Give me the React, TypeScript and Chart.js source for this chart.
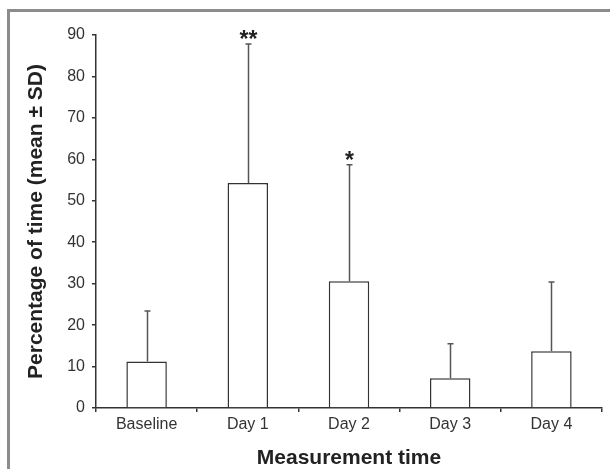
import React, { useEffect, useRef } from 'react';
import { Chart, registerables } from 'chart.js';

Chart.register(...registerables);

const categories = ['Baseline', 'Day 1', 'Day 2', 'Day 3', 'Day 4'];
const means = [11.2, 54.3, 30.6, 7.2, 13.7];
const sds = [12.2, 33.5, 28.1, 8.3, 16.7];
const significance = ['', '**', '*', '', ''];
const yMin = 0;
const yMax = 90;
const yStep = 10;

const FONT = "'Liberation Sans', Arial, sans-serif";

const errorBarPlugin = {
  id: 'errorBars',
  afterDatasetsDraw(chart: any) {
    const ctx = chart.ctx;
    const meta = chart.getDatasetMeta(0);
    const yScale = chart.scales.y;
    ctx.save();
    meta.data.forEach((bar: any, i: number) => {
      const x = Math.round(bar.x) + 0.5;
      const base = yScale.getPixelForValue(means[i]);
      const top = yScale.getPixelForValue(means[i] + sds[i]);
      ctx.strokeStyle = '#555';
      ctx.lineWidth = 1.5;
      ctx.beginPath();
      ctx.moveTo(x, base);
      ctx.lineTo(x, top);
      ctx.moveTo(x - 3, top);
      ctx.lineTo(x + 3, top);
      ctx.stroke();
      if (significance[i]) {
        ctx.fillStyle = '#222';
        ctx.font = `bold 23px ${FONT}`;
        ctx.textAlign = 'center';
        ctx.textBaseline = 'alphabetic';
        ctx.fillText(significance[i], x, top + 3);
      }
    });
    ctx.restore();
  },
};

export default function App() {
  const canvasRef = useRef<HTMLCanvasElement>(null);

  useEffect(() => {
    if (!canvasRef.current) return;
    const chart = new Chart(canvasRef.current, {
      type: 'bar',
      data: {
        labels: categories,
        datasets: [
          {
            data: means,
            backgroundColor: '#ffffff',
            borderColor: '#333333',
            borderWidth: 1.5,
            barPercentage: 0.4,
            categoryPercentage: 1.0,
          },
        ],
      },
      options: {
        animation: false,
        responsive: true,
        maintainAspectRatio: false,
        layout: { padding: { top: 35, right: 8, bottom: 0, left: 0 } },
        plugins: {
          legend: { display: false },
          tooltip: { enabled: false },
        },
        scales: {
          x: {
            afterFit: (s: any) => {
              s.height = 61;
            },
            grid: {
              offset: true,
              drawOnChartArea: false,
              drawTicks: true,
              tickLength: 4,
              color: '#333',
              lineWidth: 1.5,
            },
            border: { display: true, color: '#333', width: 1.5 },
            ticks: {
              color: '#333',
              padding: 3,
              font: { family: FONT, size: 16 },
            },
            title: {
              display: true,
              text: 'Measurement time',
              color: '#222',
              padding: { top: 0, bottom: 0 },
              font: { family: FONT, size: 21, weight: 'bold', lineHeight: 1.05 },
            },
          },
          y: {
            min: yMin,
            max: yMax,
            afterFit: (s: any) => {
              s.width = 96;
            },
            grid: {
              drawOnChartArea: false,
              drawTicks: true,
              tickLength: 4,
              color: '#333',
              lineWidth: 1.5,
            },
            border: { display: true, color: '#333', width: 1.5 },
            ticks: {
              stepSize: yStep,
              color: '#333',
              padding: 7,
              font: { family: FONT, size: 16 },
            },
            title: {
              display: true,
              text: 'Percentage of time (mean ± SD)',
              color: '#222',
              padding: { top: 24, bottom: 0 },
              font: { family: FONT, size: 21, weight: 'bold' },
            },
          },
        },
      },
      plugins: [errorBarPlugin],
    });
    return () => chart.destroy();
  }, []);

  return (
    <div
      style={{
        position: 'fixed',
        left: 0,
        top: 0,
        width: 610,
        height: 469,
        background: '#fff',
      }}
    >
      <canvas ref={canvasRef} />
      <div
        style={{
          position: 'absolute',
          left: 7,
          top: 9,
          width: 603,
          height: 460,
          borderTop: '3px solid #8c8c8c',
          borderLeft: '3px solid #8c8c8c',
          boxSizing: 'border-box',
          pointerEvents: 'none',
        }}
      />
    </div>
  );
}
